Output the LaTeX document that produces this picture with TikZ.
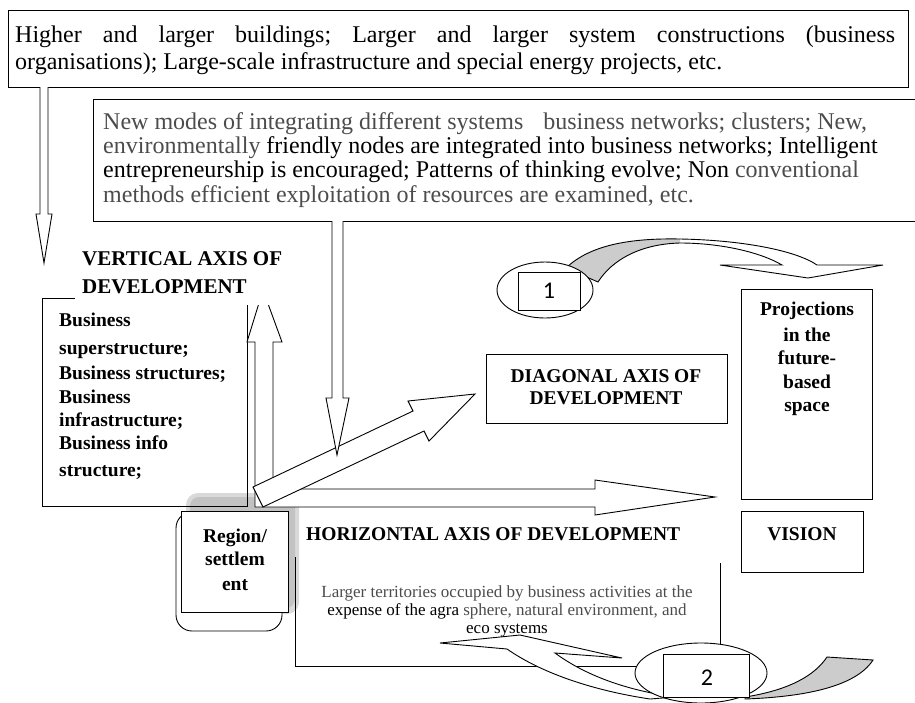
\documentclass[tikz,border=0pt]{standalone}
\usepackage{fontspec}
\setmainfont{Liberation Serif}
\newfontfamily\numfont{Carlito}
\frenchspacing
\begin{document}
\begin{tikzpicture}[x=1pt,y=-1pt]
\tikzset{
  ln/.style={draw=black, line width=1pt},
  wshape/.style={draw=black, fill=white, line width=0.9pt, line join=miter},
  txt/.style={inner sep=0pt},
  topf/.style={font=\fontsize{24}{27}\selectfont},
  secf/.style={font=\fontsize{24}{24}\selectfont},
  bff/.style={font=\bfseries\fontsize{19.5}{22}\selectfont},
  vaf/.style={font=\bfseries\fontsize{21}{24}\selectfont},
  smf/.style={font=\fontsize{17}{18}\selectfont},
  numf/.style={font=\numfont\fontsize{24}{26}\selectfont},
}
\colorlet{gtext}{black!70}
\useasboundingbox (0,0) rectangle (915,702);
\fill[white] (0,0) rectangle (915,702);

% ---------- top box
\node[ln, anchor=north west, minimum width=900pt, minimum height=77pt, inner sep=0pt] (topbox) at (8,10) {};
\node[txt, topf, anchor=base west] (top1) at (15,42) {\makebox[880pt][s]{Higher and larger buildings; Larger and larger system constructions (business}};
\node[txt, topf, anchor=base west] (top2) at (15,69) {organisations); Large-scale infrastructure and special energy projects, etc.};

% ---------- second box
\draw[ln] (916,99) -- (93,99) -- (93,221) -- (916,221);
\node[txt, secf, anchor=base west, text=gtext] (sec1) at (103,129) {New modes of integrating different systems\hspace{14pt} business networks; clusters; New,};
\node[txt, secf, anchor=base west] (sec2) at (103,153) {\textcolor{gtext}{environmentally} friendly nodes are integrated into business networks; Intelligent};
\node[txt, secf, anchor=base west] (sec3) at (103,177) {entrepreneurship is encouraged; Patterns of thinking evolve; Non \textcolor{gtext}{conventional}};
\node[txt, secf, anchor=base west, text=gtext] (sec4) at (103,202) {methods efficient exploitation of resources are examined, etc.};

% ---------- left down arrow
\draw[wshape] (40,87) -- (40,214) -- (36,214) -- (44,263) -- (52,214) -- (48,214) -- (48,87);

% ---------- shadow of region box
\fill[gray!30, rounded corners=12pt] (186,493) rectangle (299,614);
\fill[gray!48, rounded corners=9pt] (190,497) rectangle (295,608);

% ---------- left box (outline)
\draw[ln] (42,298) rectangle (247,506);
\node[txt, bff, anchor=base west] (lb1) at (59,326) {Business};
\node[txt, bff, anchor=base west] (lb2) at (59,354) {superstructure;};
\node[txt, bff, anchor=base west] (lb3) at (59,379) {Business structures;};
\node[txt, bff, anchor=base west] (lb4) at (59,403) {Business};
\node[txt, bff, anchor=base west] (lb5) at (59,426) {infrastructure;};
\node[txt, bff, anchor=base west] (lb6) at (59,449) {Business info};
\node[txt, bff, anchor=base west] (lb7) at (59,476) {structure;};

% ---------- horizontal box
\draw[ln] (295,557) -- (295,666) -- (720,666) -- (720,563);
\node[txt, bff, anchor=base west] (hax) at (306,540) {HORIZONTAL AXIS OF DEVELOPMENT};
\node[txt, smf, anchor=base, text=gtext] (hs1) at (507,597) {Larger territories occupied by business activities at the};
\node[txt, smf, anchor=base, text=gtext] (hs2) at (507,615) {\textcolor{black}{expense of the agra} sphere, natural environment, and};
\node[txt, smf, anchor=base] (hs3) at (507,633) {eco systems};

% ---------- L-shaped arrow (vertical up + horizontal right)
\draw[wshape] (255,507) -- (255,342) -- (247,342) -- (263,290) -- (282,342) -- (273,342)
  -- (273,489) -- (595,489) -- (595,480) -- (715,497) -- (595,515) -- (595,507) -- cycle;

% ---------- diagonal arrow
\draw[wshape] (253,487) -- (413,411) -- (408,401) -- (475,394) -- (429,441) -- (424,431) -- (263,507) -- cycle;

% ---------- down arrow from second box
\draw[wshape] (332,221) -- (332,398) -- (326,398) -- (337,455) -- (349,398) -- (343,398) -- (343,221);

% ---------- vertical axis label (white background)
\fill[white] (75,238) rectangle (292,305);
\node[txt, vaf, anchor=base west] (va1) at (82,265) {VERTICAL AXIS OF};
\node[txt, vaf, anchor=base west] (va2) at (82,293) {DEVELOPMENT};

% ---------- region / settlement
\draw[wshape, rounded corners=16pt] (176,512) rectangle (282,631);
\node[wshape, anchor=north west, minimum width=107pt, minimum height=101pt, inner sep=0pt] (region) at (181,511) {};
\node[txt, bff, anchor=base] (rg1) at (235,542) {Region/};
\node[txt, bff, anchor=base] (rg2) at (235,565) {settlem};
\node[txt, bff, anchor=base] (rg3) at (235,590) {ent};

% ---------- diagonal box
\node[ln, anchor=north west, minimum width=241pt, minimum height=69pt, inner sep=0pt] (diagbox) at (486,354) {};
\node[txt, bff, anchor=base] (dg1) at (606,382) {DIAGONAL AXIS OF};
\node[txt, bff, anchor=base] (dg2) at (606,404) {DEVELOPMENT};

% ---------- projections box
\node[ln, anchor=north west, minimum width=131pt, minimum height=210pt, inner sep=0pt] (projbox) at (741,289) {};
\node[txt, bff, anchor=base] (pj1) at (807,315) {Projections};
\node[txt, bff, anchor=base] (pj2) at (807,341) {in the};
\node[txt, bff, anchor=base] (pj3) at (807,364) {future-};
\node[txt, bff, anchor=base] (pj4) at (807,388) {based};
\node[txt, bff, anchor=base] (pj5) at (807,411) {space};

% ---------- vision box
\node[ln, anchor=north west, minimum width=122pt, minimum height=61pt, inner sep=0pt] (visbox) at (741,511) {};
\node[txt, bff, anchor=base] (vis) at (802,540) {VISION};

% ---------- curved arrow 1
\def\ribbon{(566,268) .. controls (590,245) and (630,238) .. (680,239)
  .. controls (740,240) and (795,250) .. (817,265) -- (883,265) -- (808,278) -- (720,265) -- (782,265)
  .. controls (760,252) and (720,243) .. (680,243)
  .. controls (640,244) and (612,260) .. (598,282) -- cycle}
\fill[white] \ribbon;
\begin{scope}
  \clip (500,200) rectangle (680,300);
  \fill[gray!40] \ribbon;
\end{scope}
\draw[line width=0.9pt, line join=miter] \ribbon;
\draw[wshape] (545,290) ellipse [x radius=48pt, y radius=28pt];
\node[wshape, anchor=north west, minimum width=62pt, minimum height=38pt, inner sep=0pt] (b1) at (518,272) {};
\node[txt, numf] (n1) at (549,291) {1};

% ---------- curved arrow 2
\draw[wshape] (440,643) -- (520,635) -- (622,658) -- (555,653)
  .. controls (585,675) and (625,690) .. (675,697) -- (650,699)
  .. controls (590,690) and (540,672) .. (507,649) -- cycle;
\draw[draw=black, fill=gray!40, line width=0.9pt] (745,697) .. controls (790,690) and (815,675) .. (827,657)
  -- (873,660) .. controls (855,688) and (800,697) .. (745,699) -- cycle;
\draw[wshape] (701,673) ellipse [x radius=66pt, y radius=30pt];
\node[wshape, anchor=north west, minimum width=86pt, minimum height=43pt, inner sep=0pt] (b2) at (663,654) {};
\node[txt, numf] (n2) at (707,678) {2};
\end{tikzpicture}
\end{document}
